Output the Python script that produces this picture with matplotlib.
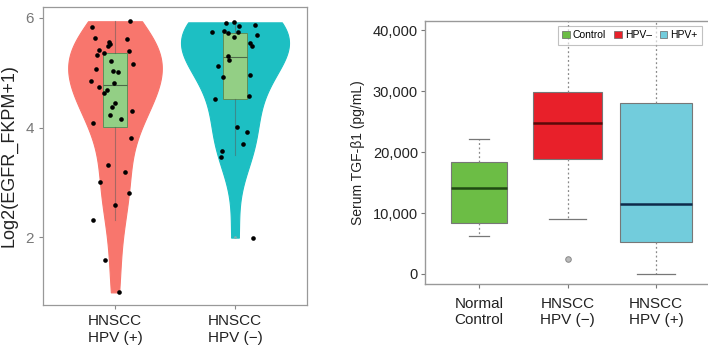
import numpy as np
import matplotlib
matplotlib.use("Agg")
import matplotlib.pyplot as plt
from matplotlib.patches import Patch

plt.rcParams["font.family"] = ["Liberation Sans", "DejaVu Sans"]

# ---- left panel: EGFR expression (violin + box + jittered points)
violin_labels = ["HNSCC\nHPV (+)", "HNSCC\nHPV (\u2212)"]
violin_colors = ["#F8766D", "#1DBFC3"]

hpv_pos_vals = [5.83, 5.94, 5.63, 5.62, 5.57, 5.52, 5.48, 5.42, 5.39, 5.32, 5.36, 5.21,
                5.16, 5.07, 5.04, 5.01, 4.85, 4.81, 4.74, 4.69, 4.63, 4.45, 4.37, 4.23,
                4.16, 4.31, 4.08, 3.80, 3.32, 3.18, 3.00, 2.80, 2.59, 2.31, 1.59, 0.99]
hpv_pos_jitter = [-0.195, 0.127, -0.170, 0.102, -0.048, -0.040, -0.059, -0.130, 0.113,
                  -0.147, -0.091, -0.037, 0.147, -0.159, -0.020, 0.023, -0.201, -0.006,
                  -0.136, -0.068, -0.091, 0.0, -0.025, -0.045, 0.051, 0.142, -0.181,
                  0.136, -0.062, 0.082, -0.125, 0.116, 0.0, -0.184, -0.085, 0.034]
hpv_neg_vals = [5.74, 5.90, 5.92, 5.85, 5.88, 5.77, 5.73, 5.74, 5.66, 5.68, 5.54, 5.49,
                5.30, 5.24, 5.12, 4.92, 4.95, 4.52, 4.57, 4.01, 3.91, 3.70, 3.58, 3.46, 1.99]
hpv_neg_jitter = [-0.193, -0.076, -0.006, 0.034, 0.170, -0.093, -0.057, 0.023, -0.008,
                  0.187, 0.127, 0.142, -0.057, -0.051, -0.142, -0.099, 0.122, -0.164,
                  0.119, 0.017, 0.099, 0.065, -0.108, -0.116, 0.147]

# box stats: whislo, q1, median, q3, whishi, outliers
egfr_box_stats = [
    dict(whislo=2.32, q1=4.01, med=4.77, q3=5.36, whishi=5.94, fliers=[1.59]),
    dict(whislo=3.50, q1=4.52, med=5.29, q3=5.73, whishi=5.93, fliers=[2.0]),
]

# ---- right panel: serum TGF-beta1
tgf_labels = ["Normal\nControl", "HNSCC\nHPV (\u2212)", "HNSCC\nHPV (+)"]
tgf_colors = ["#6CBD45", "#E8202A", "#72CCDC"]
tgf_median_colors = ["#1F4A12", "#5A0A0A", "#0E2A4A"]
tgf_legend = ["Control", "HPV\u2013", "HPV+"]
tgf_box_stats = [
    dict(whislo=6170, q1=8350, med=14080, q3=18340, whishi=22100, fliers=[]),
    dict(whislo=8950, q1=18880, med=24830, q3=29900, whishi=48000, fliers=[2450]),
    dict(whislo=0, q1=5180, med=11510, q3=28100, whishi=48000, fliers=[]),
]
tgf_box_widths = [0.63, 0.78, 0.81]
tgf_cap_widths = [0.22, 0.42, 0.42]


def nrd0(x, adjust=1.0):
    x = np.asarray(x)
    sd = x.std(ddof=1)
    iqr = np.subtract(*np.percentile(x, [75, 25]))
    lo = min(sd, iqr / 1.34) if iqr > 0 else sd
    return adjust * 0.9 * lo * len(x) ** -0.2


def kde(x, grid, adjust=1.0):
    x = np.asarray(x)
    bw = nrd0(x, adjust)
    z = (grid[:, None] - x[None, :]) / bw
    return np.exp(-0.5 * z ** 2).sum(axis=1) / (len(x) * bw * np.sqrt(2 * np.pi))


fig = plt.figure(figsize=(7.08, 3.47), dpi=100)

# ================= left panel
ax1 = fig.add_axes([43 / 708, 1 - 305 / 347, 264 / 708, 298 / 347])
groups = [hpv_pos_vals, hpv_neg_vals]
jitters = [hpv_pos_jitter, hpv_neg_jitter]
grids, dens = [], []
for vals in groups:
    g = np.linspace(min(vals), max(vals), 300)
    grids.append(g)
    dens.append(kde(vals, g, adjust=1.35))
dmax = max(d.max() for d in dens)
for i, (g, d) in enumerate(zip(grids, dens)):
    pos = i + 1
    half = 0.45 * d / dmax
    ax1.fill_betweenx(g, pos - half, pos + half, color=violin_colors[i],
                      edgecolor=violin_colors[i], lw=0.8, zorder=1)

for i, st in enumerate(egfr_box_stats):
    pos = i + 1
    ax1.bxp([st], positions=[pos], widths=0.2, patch_artist=True, showcaps=False,
            boxprops=dict(facecolor="#93CF85", edgecolor="#5E8F58", lw=0.7),
            medianprops=dict(color="#4C6A48", lw=0.8),
            whiskerprops=dict(color=(0.35, 0.35, 0.35, 0.5), lw=0.8),
            flierprops=dict(marker="o", markersize=2, markerfacecolor=violin_colors[i] if i == 0 else "#7FAFB0",
                            markeredgecolor="none"),
            zorder=2)

for i, (vals, jit) in enumerate(zip(groups, jitters)):
    ax1.scatter(np.array(jit) + i + 1, vals, s=11, color="black", zorder=3, linewidths=0)

ax1.set_xlim(0.4, 2.6)
ax1.set_ylim(0.76, 6.2)
ax1.set_yticks([2, 4, 6])
ax1.set_xticks([1, 2])
ax1.set_xticklabels(violin_labels, fontsize=11, color="#222222", linespacing=1.25)
ax1.tick_params(axis="y", colors="#888888", labelsize=11, length=3, labelcolor="#777777")
ax1.tick_params(axis="x", colors="#888888", length=3, labelcolor="#222222")
for s in ax1.spines.values():
    s.set_color("#999999")
    s.set_linewidth(0.9)
ax1.set_ylabel("Log2(EGFR_FKPM+1)", fontsize=13, color="#222222")
ax1.yaxis.set_label_coords(-25 / 264, 0.5)

# ================= right panel
ax2 = fig.add_axes([425 / 708, 1 - 284 / 347, 285 / 708, 263 / 347])
for i, st in enumerate(tgf_box_stats):
    ax2.bxp([st], positions=[i + 1], widths=tgf_box_widths[i], capwidths=[tgf_cap_widths[i]],
            patch_artist=True,
            boxprops=dict(facecolor=tgf_colors[i], edgecolor="#777777", lw=0.8),
            medianprops=dict(color=tgf_median_colors[i], lw=1.8),
            whiskerprops=dict(color="#888888", lw=0.9, linestyle=(0, (1.5, 2))),
            capprops=dict(color="#777777", lw=0.9),
            flierprops=dict(marker="o", markersize=4, markerfacecolor="#BBBBBB",
                            markeredgecolor="#888888", markeredgewidth=0.7),
            zorder=2)

ax2.set_xlim(0.39, 3.61)
ax2.set_ylim(-1640, 41480)
ax2.set_yticks([0, 10000, 20000, 30000, 40000])
ax2.set_yticklabels(["0", "10,000", "20,000", "30,000", "40,000"])
ax2.set_xticks([1, 2, 3])
ax2.set_xticklabels(tgf_labels, fontsize=11, color="#222222", linespacing=1.25)
ax2.tick_params(axis="y", labelsize=10.5, length=3, colors="#777777", labelcolor="#222222", pad=2)
ax2.tick_params(axis="x", length=3, colors="#777777", labelcolor="#222222", pad=6)
for s in ax2.spines.values():
    s.set_color("#999999")
    s.set_linewidth(1.0)
ax2.set_ylabel("Serum TGF-\u03b21 (pg/mL)", fontsize=10, color="#222222", labelpad=6)

handles = [Patch(facecolor=c, edgecolor="#666666", lw=0.5) for c in tgf_colors]
leg = ax2.legend(handles, tgf_legend, loc="upper right", ncol=3, fontsize=7.5,
                 handlelength=0.7, handleheight=0.7, handletextpad=0.3, columnspacing=0.8,
                 borderpad=0.4, frameon=True, fancybox=False, framealpha=0.6,
                 bbox_to_anchor=(0.99, 1.0))
leg.get_frame().set_edgecolor("#999999")
leg.get_frame().set_linewidth(0.8)

fig.savefig("out.png", dpi=100)
